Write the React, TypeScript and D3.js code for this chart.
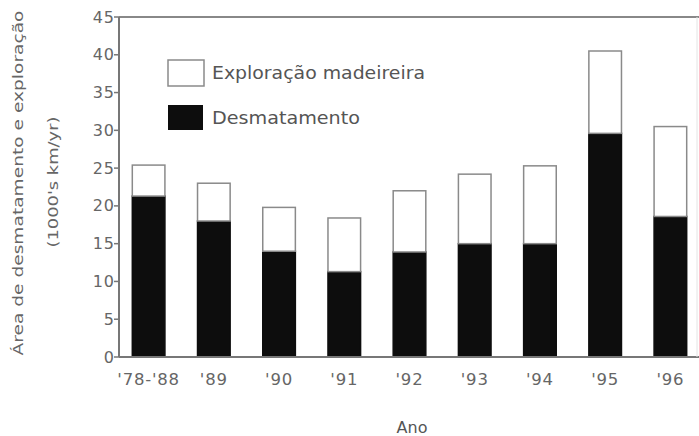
import React from "react";
import * as d3 from "d3";

// dados (1000's km²/ano)
const anos = ["'78-'88", "'89", "'90", "'91", "'92", "'93", "'94", "'95", "'96"];
const desmatamento = [21.3, 18.0, 14.0, 11.3, 13.9, 15.0, 15.0, 29.6, 18.6];
const exploracao = [4.1, 5.0, 5.8, 7.1, 8.1, 9.2, 10.3, 10.9, 11.9];
const yTicks = [0, 5, 10, 15, 20, 25, 30, 35, 40, 45];

const width = 699;
const height = 436;
const axisX = 119;
const top = 17;
const bottom = 357;
const font = "'DejaVu Sans', sans-serif";
const textColor = "#555";

export default function App() {
  const rows = anos.map((a, i) => ({ ano: a, desm: desmatamento[i], expl: exploracao[i] }));
  const stack = d3.stack<any>().keys(["desm", "expl"])(rows);

  const x = d3.scaleBand().domain(anos).range([116, 703]).paddingInner(0.5).paddingOuter(0.25);
  const y = d3.scaleLinear().domain([0, 45]).range([bottom, top]);

  return (
    <svg
      width={width}
      height={height}
      style={{ position: "absolute", left: 0, top: 0, background: "#fff" }}
    >
      {/* bars */}
      {stack.map((layer) => (
        <g key={layer.key}>
          {layer.map((d: any) => (
            <rect
              key={d.data.ano}
              x={x(d.data.ano)}
              width={x.bandwidth()}
              y={y(d[1])}
              height={y(d[0]) - y(d[1])}
              fill={layer.key === "desm" ? "#0d0d0d" : "#fff"}
              stroke={layer.key === "desm" ? "#0d0d0d" : "#8a8a8a"}
              strokeWidth={1.5}
            />
          ))}
        </g>
      ))}

      {/* frame / axes */}
      <line x1={axisX} x2={width} y1={top} y2={top} stroke="#888" strokeWidth={2} />
      <line x1={axisX} x2={axisX} y1={top} y2={bottom} stroke="#777" strokeWidth={2} />
      <line x1={axisX} x2={width} y1={bottom} y2={bottom} stroke="#777" strokeWidth={2} />
      <line x1={697} x2={697} y1={top} y2={bottom} stroke="#e4e4e4" strokeWidth={1} />

      {yTicks.map((t) => (
        <g key={t} transform={`translate(0,${y(t)})`}>
          <line x1={axisX - 5} x2={axisX} stroke="#777" strokeWidth={1.5} />
          <text
            x={axisX - 4}
            dy="0.35em"
            textAnchor="end"
            fontFamily={font}
            fontSize={16}
            fill="#666"
            letterSpacing={1}
          >
            {t}
          </text>
        </g>
      ))}

      {anos.map((a) => (
        <text
          key={a}
          x={(x(a) as number) + x.bandwidth() / 2}
          y={385}
          textAnchor="middle"
          fontFamily={font}
          fontSize={16.5}
          fill="#666"
          letterSpacing={0.8}
        >
          {a}
        </text>
      ))}

      <text x={412} y={433} textAnchor="middle" fontFamily={font} fontSize={16} fill={textColor}>
        Ano
      </text>

      <text
        transform="translate(23,183) rotate(-90)"
        textAnchor="middle"
        fontFamily={font}
        fontSize={14}
        fill="#666"
        textLength={345}
        lengthAdjust="spacingAndGlyphs"
      >
        Área de desmatamento e exploração
      </text>
      <text
        transform="translate(58,182) rotate(-90)"
        textAnchor="middle"
        fontFamily={font}
        fontSize={14}
        fill="#666"
        textLength={131}
        lengthAdjust="spacingAndGlyphs"
      >
        (1000's km/yr)
      </text>

      {/* legend */}
      <rect x={168} y={60} width={36} height={26} fill="#fff" stroke="#8a8a8a" strokeWidth={1.5} />
      <text
        x={212}
        y={79}
        fontFamily={font}
        fontSize={17}
        fill={textColor}
        textLength={213}
        lengthAdjust="spacingAndGlyphs"
      >
        Exploração madeireira
      </text>
      <rect x={168} y={105} width={35} height={25} fill="#0d0d0d" />
      <text
        x={212}
        y={124}
        fontFamily={font}
        fontSize={17}
        fill={textColor}
        textLength={148}
        lengthAdjust="spacingAndGlyphs"
      >
        Desmatamento
      </text>
    </svg>
  );
}
